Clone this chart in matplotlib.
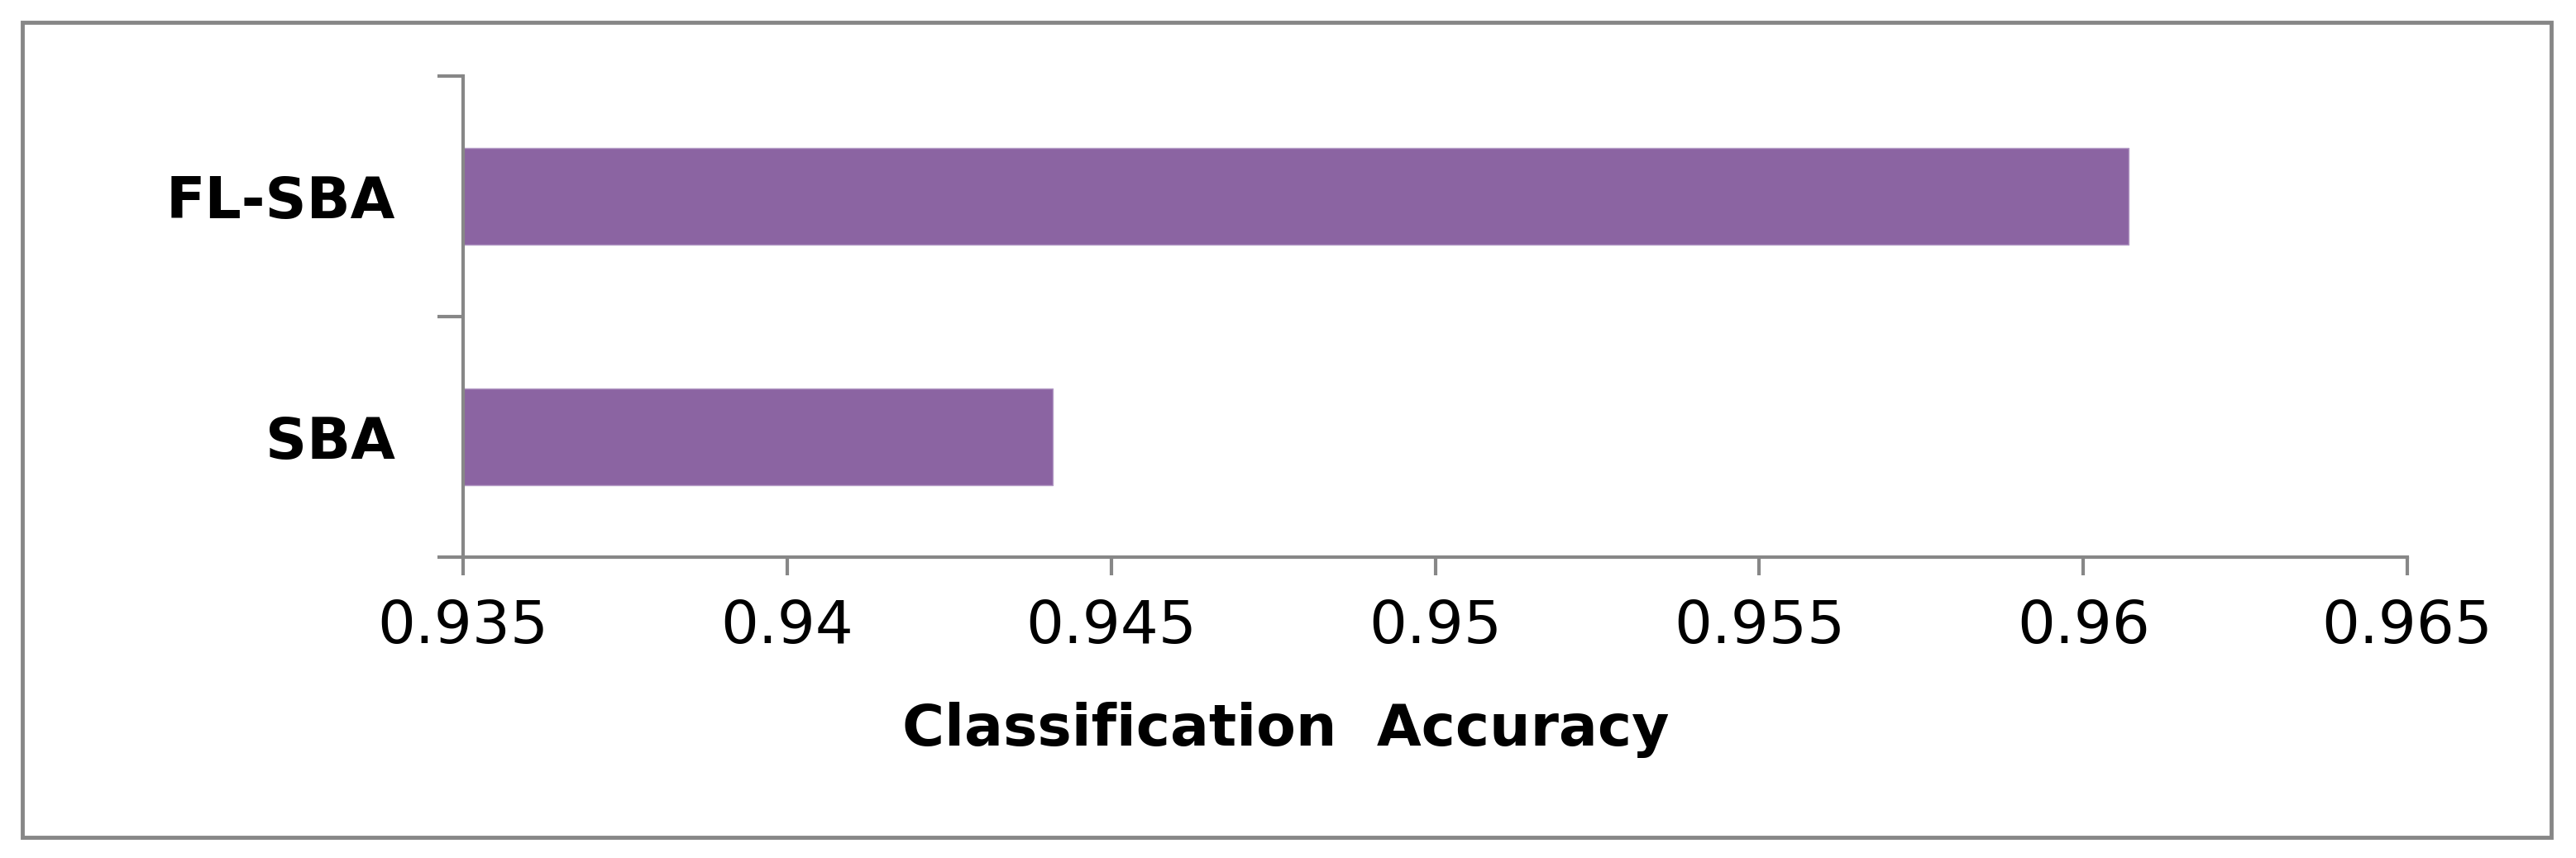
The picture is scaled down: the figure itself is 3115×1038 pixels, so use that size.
import numpy as np
import matplotlib
matplotlib.use("Agg")
import matplotlib.pyplot as plt
from matplotlib.patches import Rectangle
from matplotlib.ticker import FixedLocator

# Data
methods = ["SBA", "FL-SBA"]
accuracy = [0.9441, 0.9607]
xticks = [0.935, 0.94, 0.945, 0.95, 0.955, 0.96, 0.965]
xtick_labels = ["0.935", "0.94", "0.945", "0.95", "0.955", "0.96", "0.965"]

bar_color = "#8B64A2"
axis_color = "#878787"

fig = plt.figure(figsize=(31.15, 10.38), dpi=100)
ax = fig.add_axes([560 / 3115, 1 - 674 / 1038, (2911 - 560) / 3115, (674 - 92) / 1038])

y = np.arange(len(methods))
ax.barh(y, accuracy, height=0.4, color=bar_color, edgecolor="#B49CC6", linewidth=1.0)

ax.set_xlim(0.935, 0.965)
ax.set_ylim(-0.5, len(methods) - 0.5)

ax.set_xticks(xticks)
ax.set_xticklabels(xtick_labels, fontsize=52)
ax.tick_params(axis="x", length=16, width=3, color=axis_color, pad=20)

ax.set_yticks(y)
ax.set_yticklabels(methods, fontsize=50, fontweight="bold")
ax.tick_params(axis="y", which="major", length=0, pad=59)
ax.yaxis.set_minor_locator(FixedLocator(np.arange(-0.5, len(methods), 1.0)))
ax.tick_params(axis="y", which="minor", length=22, width=3, color=axis_color)

for side in ["top", "right"]:
    ax.spines[side].set_visible(False)
for side in ["left", "bottom"]:
    ax.spines[side].set_color(axis_color)
    ax.spines[side].set_linewidth(3)

fig.text(1555 / 3115, 1 - 883 / 1038, "Classification  Accuracy", fontsize=50,
         fontweight="bold", ha="center", va="center")

# outer frame
fig.patches.append(Rectangle((27 / 3115, 1 - 1013 / 1038), (3085 - 27) / 3115, (1013 - 27) / 1038,
                             transform=fig.transFigure, fill=False, edgecolor=axis_color,
                             linewidth=3.5))

fig.savefig("out.png", dpi=100, facecolor="white")
